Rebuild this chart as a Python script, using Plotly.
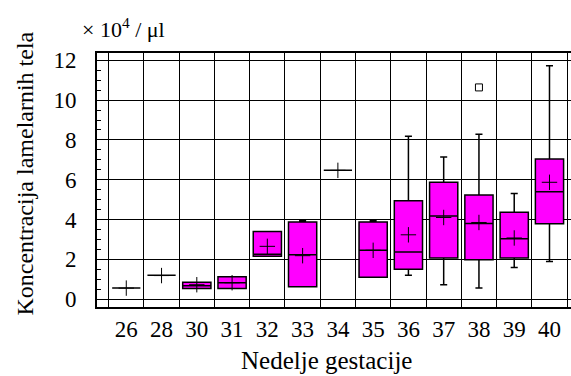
import plotly.graph_objects as go

categories = ["26", "28", "30", "31", "32", "33", "34", "35", "36", "37", "38", "39", "40"]
q1 = [0.55, 1.2, 0.53, 0.53, 2.15, 0.62, 6.47, 1.1, 1.5, 2.06, 1.98, 2.06, 3.79]
median = [0.55, 1.2, 0.67, 0.82, 2.25, 2.23, 6.47, 2.45, 2.36, 4.17, 3.8, 3.03, 5.4]
q3 = [0.55, 1.2, 0.84, 1.12, 3.39, 3.87, 6.47, 3.87, 4.94, 5.87, 5.23, 4.36, 7.04]
lower = [0.55, 1.2, 0.53, 0.53, 2.15, 0.62, 6.47, 1.1, 1.2, 0.72, 0.55, 1.59, 1.89]
upper = [0.55, 1.2, 0.84, 1.12, 3.39, 3.93, 6.47, 3.93, 8.18, 7.14, 8.28, 5.3, 11.73]
means = [0.55, 1.18, 0.72, 0.82, 2.65, 2.18, 6.47, 2.45, 3.23, 4.1, 3.85, 3.07, 5.87]
outlier_cat = ["38"]
outlier_val = [10.64]

FONT = "Liberation Serif"

fig = go.Figure()
fig.add_trace(go.Box(
    x=categories, q1=q1, median=median, q3=q3,
    lowerfence=lower, upperfence=upper,
    fillcolor="#FF00FF", line=dict(color="#000000", width=1.5),
    width=0.8, whiskerwidth=0.25, boxpoints=False, showlegend=False,
))
fig.add_trace(go.Scatter(
    x=categories, y=means, mode="markers",
    marker=dict(symbol="cross-thin-open", size=11, color="#000000",
                line=dict(color="#000000", width=1)),
    showlegend=False,
))
fig.add_trace(go.Scatter(
    x=outlier_cat, y=outlier_val, mode="markers",
    marker=dict(symbol="square-open", size=7, color="#000000",
                line=dict(color="#000000", width=1)),
    showlegend=False,
))

fig.update_layout(
    width=571, height=376,
    margin=dict(l=97, r=0, t=53, b=69),
    plot_bgcolor="white", paper_bgcolor="white",
    font=dict(family=FONT, size=23, color="#000000"),
    xaxis=dict(
        type="category", categoryorder="array", categoryarray=categories,
        range=[-0.83, 12.61], tickson="boundaries",
        showgrid=True, gridcolor="#000000", gridwidth=1,
        showline=True, linecolor="#000000", linewidth=2, mirror=True,
        ticks="", ticklabelstandoff=0,
        tickfont=dict(family=FONT, size=23, color="#000000"),
    ),
    yaxis=dict(
        range=[-0.40, 12.37], tickvals=[0, 2, 4, 6, 8, 10, 12],
        showgrid=True, gridcolor="#000000", gridwidth=1, zeroline=False,
        showline=True, linecolor="#000000", linewidth=2, mirror=False,
        ticks="inside", ticklen=4, tickcolor="#000000",
        minor=dict(dtick=0.5, ticks="inside", ticklen=4, tickcolor="#000000", showgrid=False),
        ticklabelstandoff=14,
        tickfont=dict(family=FONT, size=23, color="#000000"),
    ),
    annotations=[
        dict(text="Nedelje gestacije", xref="paper", yref="paper",
             x=0.485, y=-0.211, xanchor="center", yanchor="middle",
             showarrow=False, font=dict(family=FONT, size=25, color="#000000")),
        dict(text="Koncentracija lamelarnih tela", xref="paper", yref="paper",
             x=-0.152, y=0.525, xanchor="center", yanchor="middle", textangle=-90,
             showarrow=False, font=dict(family=FONT, size=24, color="#000000")),
        dict(text="×&nbsp;10<sup>4</sup>&nbsp;/&nbsp;μl", xref="paper", yref="paper",
             x=-0.036, y=1.10, xanchor="left", yanchor="middle",
             showarrow=False, font=dict(family=FONT, size=22, color="#000000")),
    ],
)

fig.write_html("out.html")
